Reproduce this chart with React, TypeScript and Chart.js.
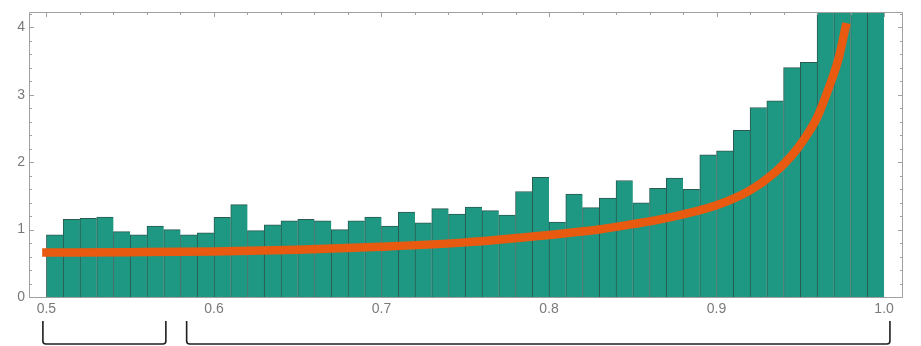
import React, { useEffect, useRef } from "react";
import { Chart, registerables } from "chart.js";

Chart.register(...registerables);

// Histogram bins (centers) and heights
const binCenters = [
  0.505, 0.515, 0.525, 0.535, 0.545, 0.555, 0.565, 0.575, 0.585, 0.595,
  0.605, 0.615, 0.625, 0.635, 0.645, 0.655, 0.665, 0.675, 0.685, 0.695,
  0.705, 0.715, 0.725, 0.735, 0.745, 0.755, 0.765, 0.775, 0.785, 0.795,
  0.805, 0.815, 0.825, 0.835, 0.845, 0.855, 0.865, 0.875, 0.885, 0.895,
  0.905, 0.915, 0.925, 0.935, 0.945, 0.955, 0.965, 0.975, 0.985, 0.995,
];
const binHeights = [
  0.92, 1.15, 1.165, 1.185, 0.97, 0.92, 1.05, 1.0, 0.92, 0.95,
  1.18, 1.37, 0.985, 1.07, 1.13, 1.15, 1.13, 1.0, 1.13, 1.185,
  1.05, 1.26, 1.1, 1.31, 1.23, 1.335, 1.28, 1.215, 1.565, 1.775,
  1.11, 1.525, 1.325, 1.468, 1.728, 1.395, 1.613, 1.765, 1.597, 2.108,
  2.166, 2.472, 2.81, 2.91, 3.4, 3.478, 4.6, 5.3, 6.4, 9.5,
];

// Fitted density curve
const curveX = [
  0.5, 0.55, 0.6, 0.65, 0.7, 0.75, 0.8, 0.83, 0.85, 0.87, 0.9, 0.92, 0.935,
  0.945, 0.952, 0.96, 0.967, 0.973, 0.977,
];
const curveY = [
  0.66, 0.665, 0.675, 0.7, 0.745, 0.81, 0.92, 1.0, 1.08, 1.17, 1.36, 1.58,
  1.85, 2.1, 2.33, 2.66, 3.1, 3.55, 4.0,
];

const xTickValues = [0.5, 0.6, 0.7, 0.8, 0.9, 1.0];
const xTickLabels = ["0.5", "0.6", "0.7", "0.8", "0.9", "1.0"];
const yTickValues = [0, 1, 2, 3, 4];
const yTickLabels = ["0", "1", "2", "3", "4"];

// Bracket annotations below the axis (in data units)
const bracketRanges = [
  [0.4979, 0.5713],
  [0.5837, 1.0035],
];

const X_MIN = 0.4896;
const X_MAX = 1.0107;
const Y_MIN = 0;
const Y_MAX = 4.22;

const FRAME = "#a0a0a0";
const LABEL = "#7a7a7a";

const framePlugin = {
  id: "frameTicks",
  afterDatasetsDraw(chart: any) {
    const { ctx, chartArea: a, scales } = chart;
    const xs = scales.x;
    const ys = scales.y;
    const L = Math.round(a.left) + 0.5;
    const R = Math.round(a.right) + 0.5;
    const T = Math.round(a.top) + 0.5;
    const B = Math.round(a.bottom) + 0.5;
    ctx.save();
    ctx.strokeStyle = FRAME;
    ctx.lineWidth = 1;
    ctx.beginPath();
    ctx.rect(L, T, R - L, B - T);
    ctx.stroke();
    ctx.beginPath();
    // top ticks
    for (let i = 0; i <= 25; i++) {
      const v = 0.5 + i * 0.02;
      const major = i % 5 === 0;
      const px = Math.round(xs.getPixelForValue(v)) + 0.5;
      const len = major ? 4.5 : 2.5;
      ctx.moveTo(px, T);
      ctx.lineTo(px, T + len);
    }
    // left/right ticks
    for (let i = 0; i <= 21; i++) {
      const v = i * 0.2;
      const major = i % 5 === 0;
      const py = Math.round(ys.getPixelForValue(v)) + 0.5;
      const len = major ? 4.5 : 2.5;
      ctx.moveTo(L, py);
      ctx.lineTo(L + len, py);
      ctx.moveTo(R, py);
      ctx.lineTo(R - len, py);
    }
    ctx.stroke();
    ctx.restore();
  },
  afterDraw(chart: any) {
    const { ctx, chartArea: a, scales } = chart;
    const xs = scales.x;
    const top = a.bottom + 24;
    const bottom = a.bottom + 47;
    const r = 3;
    ctx.save();
    ctx.strokeStyle = "#1e1e1e";
    ctx.lineWidth = 1.6;
    ctx.lineJoin = "round";
    bracketRanges.forEach(([x0, x1]) => {
      const p0 = xs.getPixelForValue(x0);
      const p1 = xs.getPixelForValue(x1);
      ctx.beginPath();
      ctx.moveTo(p0, top);
      ctx.lineTo(p0, bottom - r);
      ctx.quadraticCurveTo(p0, bottom, p0 + r, bottom);
      ctx.lineTo(p1 - r, bottom);
      ctx.quadraticCurveTo(p1, bottom, p1, bottom - r);
      ctx.lineTo(p1, top);
      ctx.stroke();
    });
    ctx.restore();
  },
};

export default function App() {
  const canvasRef = useRef<HTMLCanvasElement | null>(null);

  useEffect(() => {
    if (!canvasRef.current) return;
    const chart = new Chart(canvasRef.current, {
      type: "bar",
      data: {
        datasets: [
          {
            type: "line",
            data: curveX.map((x, i) => ({ x, y: curveY[i] })),
            borderColor: "#e85a10",
            borderWidth: 8.5,
            borderCapStyle: "square",
            pointRadius: 0,
            cubicInterpolationMode: "monotone",
            fill: false,
            clip: false,
            order: 0,
          } as any,
          {
            type: "bar",
            data: binCenters.map((x, i) => ({ x, y: binHeights[i] })),
            backgroundColor: "#1e9882",
            borderColor: "#2b5a50",
            borderWidth: { top: 1, left: 1, right: 0, bottom: 0 },
            borderSkipped: false,
            barPercentage: 1,
            categoryPercentage: 1,
            clip: 0,
            order: 1,
          } as any,
        ],
      },
      options: {
        responsive: false,
        animation: false,
        layout: { padding: { top: 6, right: 19, left: 0, bottom: 0 } },
        plugins: {
          legend: { display: false },
          tooltip: { enabled: false },
        },
        scales: {
          x: {
            type: "linear",
            min: X_MIN,
            max: X_MAX,
            offset: false,
            grid: { display: false, drawTicks: false },
            border: { display: false },
            afterBuildTicks: (scale: any) => {
              scale.ticks = xTickValues.map((v) => ({ value: v }));
            },
            afterFit: (scale: any) => {
              scale.height = 49;
            },
            ticks: {
              padding: 4,
              color: LABEL,
              maxRotation: 0,
              autoSkip: false,
              font: { family: "'Liberation Sans', Arial, sans-serif", size: 14 },
              callback: (v: any) => {
                const i = xTickValues.findIndex((t) => Math.abs(t - v) < 1e-9);
                return i >= 0 ? xTickLabels[i] : "";
              },
            },
          },
          y: {
            type: "linear",
            min: Y_MIN,
            max: Y_MAX,
            grid: { display: false, drawTicks: false },
            border: { display: false },
            afterBuildTicks: (scale: any) => {
              scale.ticks = yTickValues.map((v) => ({ value: v }));
            },
            afterFit: (scale: any) => {
              scale.width = 29;
            },
            ticks: {
              padding: 4,
              color: LABEL,
              autoSkip: false,
              font: { family: "'Liberation Sans', Arial, sans-serif", size: 14 },
              callback: (v: any) => {
                const i = yTickValues.findIndex((t) => Math.abs(t - v) < 1e-9);
                return i >= 0 ? yTickLabels[i] : "";
              },
            },
          },
        },
      },
      plugins: [framePlugin],
    });
    return () => chart.destroy();
  }, []);

  return (
    <div style={{ position: "absolute", left: 0, top: 0, width: 921, height: 346, background: "#fff" }}>
      <canvas ref={canvasRef} width={921} height={346} />
    </div>
  );
}
